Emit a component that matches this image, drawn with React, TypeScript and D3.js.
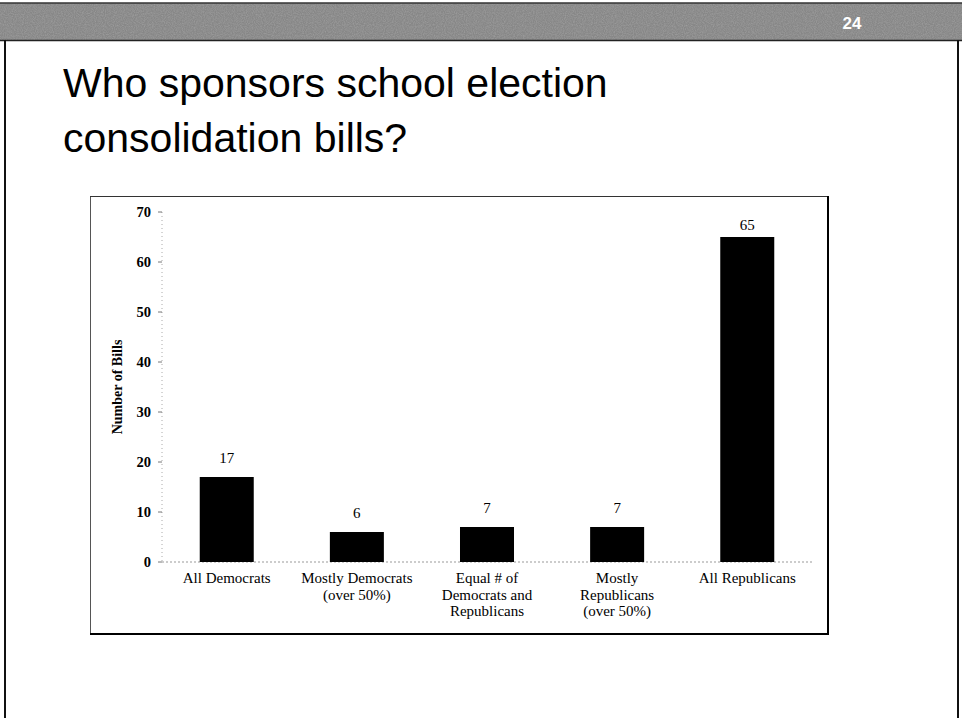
import React from "react";
import * as d3 from "d3";

const categories: string[][] = [
  ["All Democrats"],
  ["Mostly Democrats", "(over 50%)"],
  ["Equal # of", "Democrats and", "Republicans"],
  ["Mostly", "Republicans", "(over 50%)"],
  ["All Republicans"],
];
const values: number[] = [17, 6, 7, 7, 65];
const yTicks: number[] = [0, 10, 20, 30, 40, 50, 60, 70];
const titleLines: string[] = ["Who sponsors school election", "consolidation bills?"];
const slideNumber = "24";
const yAxisTitle = "Number of Bills";

export default function App() {
  const W = 962, H = 718;
  const plotLeft = 162, plotRight = 812, plotTop = 212, plotBottom = 562;
  const keys = categories.map((_, i) => String(i));
  const x = d3.scaleBand<string>().domain(keys).range([plotLeft, plotRight]).paddingInner(0.585).paddingOuter(0.29);
  const y = d3.scaleLinear().domain([0, 70]).range([plotBottom, plotTop]);
  const serif = "'Liberation Serif', 'Times New Roman', serif";
  const sans = "'Liberation Sans', Arial, sans-serif";
  return (
    <svg width={W} height={H} style={{ position: "absolute", left: 0, top: 0, background: "#fff" }}>
      <defs>
        <filter id="noise" x="0" y="0" width="100%" height="100%">
          <feTurbulence type="fractalNoise" baseFrequency="0.9" numOctaves="2" seed="3" result="t" />
          <feColorMatrix type="matrix" values="0 0 0 0 0.35  0 0 0 0 0.35  0 0 0 0 0.35  1.6 0 0 0 -0.5" in="t" result="n" />
        </filter>
      </defs>
      <rect x={0} y={0} width={W} height={H} fill="#fff" />
      {/* banner */}
      <rect x={0} y={3} width={W} height={38} fill="#878787" />
      <rect x={0} y={3} width={W} height={38} filter="url(#noise)" opacity={0.9} />
      <line x1={0} x2={W} y1={3} y2={3} stroke="#333" strokeWidth={1.5} />
      <line x1={0} x2={W} y1={40.5} y2={40.5} stroke="#222" strokeWidth={1.5} />
      <text x={852} y={29} textAnchor="middle" fontFamily={sans} fontWeight="bold" fontSize={17} fill="#fff">{slideNumber}</text>
      {/* slide borders */}
      <line x1={5} x2={5} y1={40} y2={H} stroke="#111" strokeWidth={2} />
      <line x1={958} x2={958} y1={40} y2={H} stroke="#111" strokeWidth={2} />
      {/* title */}
      {titleLines.map((t, i) => (
        <text key={i} x={63} y={97 + i * 55} fontFamily={sans} fontSize={41} fill="#000">{t}</text>
      ))}
      {/* chart frame */}
      <line x1={90.5} x2={90.5} y1={196} y2={634} stroke="#555" strokeWidth={1} />
      <line x1={90} x2={828} y1={196.5} y2={196.5} stroke="#333" strokeWidth={1} />
      <line x1={828} x2={828} y1={196} y2={635} stroke="#000" strokeWidth={2} />
      <line x1={90} x2={829} y1={634} y2={634} stroke="#000" strokeWidth={2} />
      {/* y axis */}
      <line x1={plotLeft} x2={plotLeft} y1={plotTop} y2={plotBottom} stroke="#aaa" strokeWidth={1} strokeDasharray="1 3" />
      <line x1={plotLeft} x2={plotRight} y1={plotBottom} y2={plotBottom} stroke="#999" strokeWidth={1} strokeDasharray="2 2" />
      {yTicks.map((t) => (
        <g key={t}>
          <line x1={plotLeft - 4} x2={plotLeft} y1={y(t)} y2={y(t)} stroke="#777" strokeWidth={1} />
          <text x={plotLeft - 11} y={y(t) + 5} textAnchor="end" fontFamily={serif} fontWeight="bold" fontSize={14.5} fill="#000">{t}</text>
        </g>
      ))}
      <text transform={`translate(122,${(plotTop + plotBottom) / 2}) rotate(-90)`} textAnchor="middle" fontFamily={serif} fontWeight="bold" fontSize={14} fill="#000">{yAxisTitle}</text>
      {/* bars */}
      {values.map((v, i) => {
        const bx = x(keys[i])!;
        const bw = x.bandwidth();
        return (
          <g key={i}>
            <rect x={bx} y={y(v)} width={bw} height={plotBottom - y(v)} fill="#000" />
            <text x={bx + bw / 2} y={Math.max(y(v) - 14, plotTop + 18)} textAnchor="middle" fontFamily={serif} fontSize={15} fill="#000">{v}</text>
            {categories[i].map((line, j) => (
              <text key={j} x={bx + bw / 2} y={583 + j * 16.5} textAnchor="middle" fontFamily={serif} fontSize={15} fill="#000">{line}</text>
            ))}
          </g>
        );
      })}
    </svg>
  );
}
